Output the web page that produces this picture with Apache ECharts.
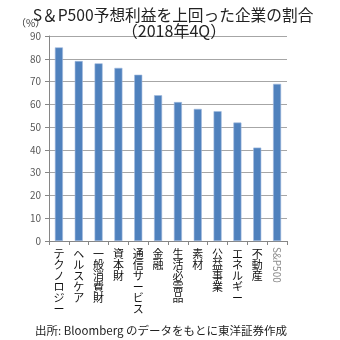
<!DOCTYPE html>
<html><head><meta charset="utf-8">
<script src="https://cdn.jsdelivr.net/npm/echarts@6/dist/echarts.min.js"></script>
<style>html,body{margin:0;padding:0;background:#fff}#c{width:340px;height:340px}</style>
</head><body><div id="c"></div>
<script>
var categories = ['テクノロジー','ヘルスケア','一般消費財','資本財','通信サービス','金融','生活必需品','素材','公益事業','エネルギー','不動産','S&P500'];
var values = [85, 79, 78, 76, 73, 64, 61, 58, 57, 52, 41, 69];
var yMin = 0, yMax = 90, yStep = 10;
var titleLine1 = 'S＆P500予想利益を上回った企業の割合';
var titleLine2 = '（2018年4Q）';
var unitLabel = '（%）';
var sourceText = '出所: Bloomberg のデータをもとに東洋証券作成';
var lastIdx = categories.length - 1;
var font = '"Noto Sans CJK JP", sans-serif';

var chart = echarts.init(document.getElementById('c'));
chart.setOption({
  animation: false,
  textStyle: {fontFamily: font},
  title: [
    {text: titleLine1, left: 168, top: 2, textAlign: 'center', textStyle: {fontSize: 15.7, fontWeight: 'normal', color: '#222', fontFamily: font}},
    {text: titleLine2, left: 169, top: 18, textAlign: 'center', textStyle: {fontSize: 16, fontWeight: 'normal', color: '#222', fontFamily: font}},
    {text: unitLabel, left: 11, top: 13, textStyle: {fontSize: 10, fontWeight: 'normal', color: '#333', fontFamily: font}},
    {text: sourceText, left: 30, top: 320, textStyle: {fontSize: 11.5, fontWeight: 'normal', color: '#222', fontFamily: font}}
  ],
  grid: {left: 49, right: 53, top: 36, bottom: 99},
  xAxis: [{
    type: 'category', data: categories,
    axisLine: {lineStyle: {color: '#868686'}},
    axisTick: {show: true, length: 4, lineStyle: {color: '#868686'}},
    axisLabel: {
      interval: 0, margin: 7, fontSize: 11, lineHeight: 11, color: '#111', verticalAlign: 'top',
      formatter: function (v, i) { return i === lastIdx ? '' : v.split('').join('\n'); }
    }
  }, {
    type: 'category', data: categories, position: 'bottom',
    axisLine: {show: false}, axisTick: {show: false},
    axisLabel: {
      interval: 0, rotate: -90, margin: 6, fontSize: 10, color: '#8c8c8c',
      formatter: function (v, i) { return i === lastIdx ? v : ''; }
    }
  }],
  yAxis: {
    type: 'value', min: yMin, max: yMax, interval: yStep,
    axisLine: {show: true, lineStyle: {color: '#868686'}},
    axisTick: {show: true, length: 4, inside: false, lineStyle: {color: '#868686'}},
    axisLabel: {fontSize: 10, color: '#595959', margin: 8},
    splitLine: {lineStyle: {color: '#a6a6a6', width: 1}}
  },
  series: [{
    type: 'bar', data: values, barWidth: 8, xAxisIndex: 0,
    itemStyle: {color: '#4f81bd', borderColor: '#9fb9dd', borderWidth: 0.6}
  }]
});
</script></body></html>
